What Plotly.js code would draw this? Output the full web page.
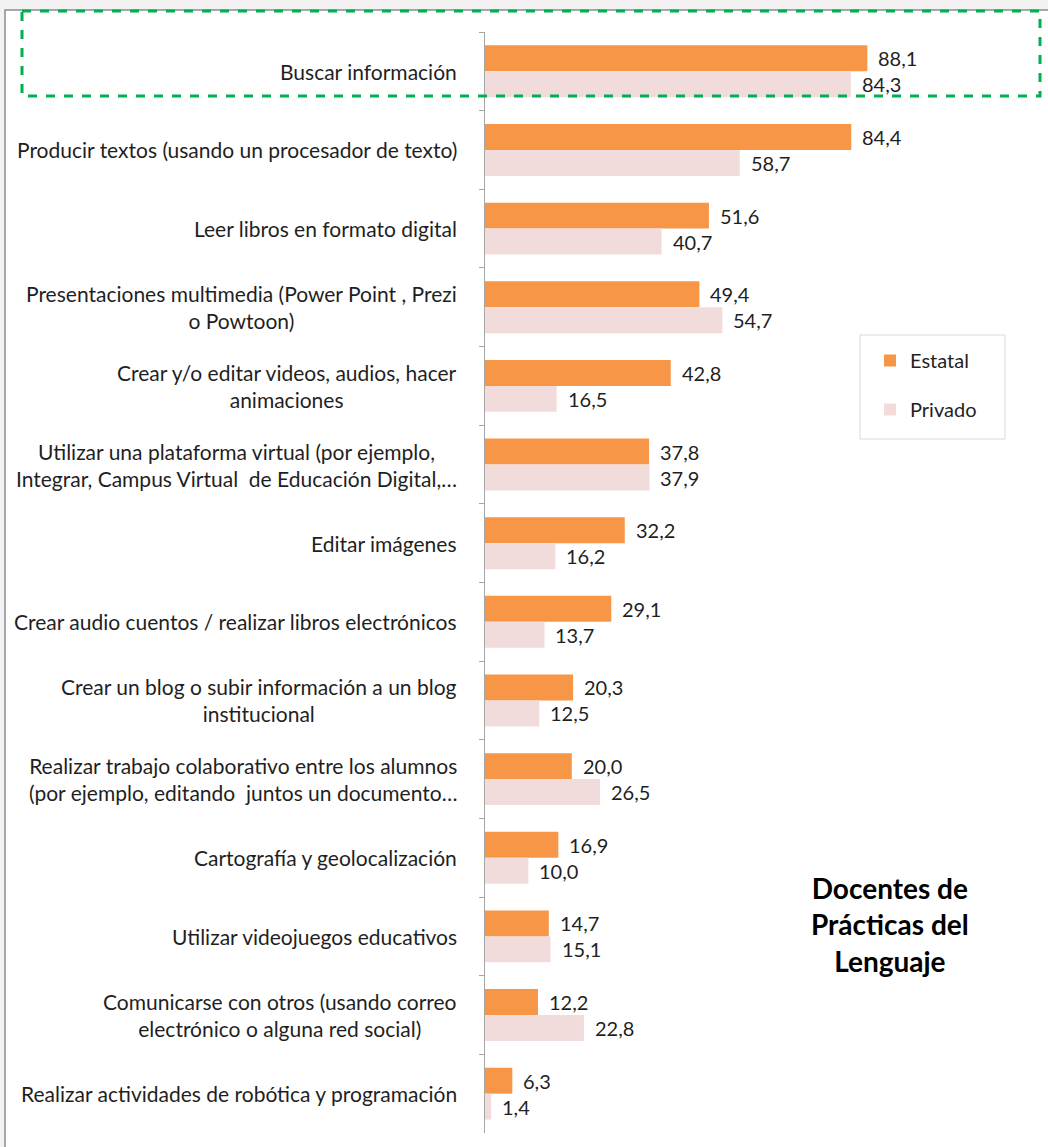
<!DOCTYPE html>
<html>
<head>
<meta charset="utf-8">
<script src="https://cdn.plot.ly/plotly-3.0.1.min.js"></script>
<style>
html,body{margin:0;padding:0;background:#f2f2f2;}
#chart{width:1048px;height:1147px;}
</style>
</head>
<body>
<div id="chart"></div>
<script>
const categories = [
  "Buscar información",
  "Producir textos (usando un procesador de texto)",
  "Leer libros en formato digital",
  "Presentaciones multimedia (Power Point , Prezi<br>o Powtoon)",
  "Crear y/o editar videos, audios, hacer<br>animaciones",
  "Utilizar una plataforma virtual (por ejemplo,<br>Integrar, Campus Virtual  de Educación Digital,…",
  "Editar imágenes",
  "Crear audio cuentos / realizar libros electrónicos",
  "Crear un blog o subir información a un blog<br>institucional",
  "Realizar trabajo colaborativo entre los alumnos<br>(por ejemplo, editando  juntos un documento…",
  "Cartografía y geolocalización",
  "Utilizar videojuegos educativos",
  "Comunicarse con otros (usando correo<br>electrónico o alguna red social)",
  "Realizar actividades de robótica y programación"
];
const estatal = [88.1, 84.4, 51.6, 49.4, 42.8, 37.8, 32.2, 29.1, 20.3, 20.0, 16.9, 14.7, 12.2, 6.3];
const privado = [84.3, 58.7, 40.7, 54.7, 16.5, 37.9, 16.2, 13.7, 12.5, 26.5, 10.0, 15.1, 22.8, 1.4];
const seriesNames = ["Estatal", "Privado"];
const chartTitle = "Docentes de<br>Prácticas del<br>Lenguaje";

const COL_E = "#F79646";
const COL_P = "#F2DCDB";
const FONT = "Lato, 'Open Sans', sans-serif";
const TXT = "#1f1f1f";

// pixel -> paper helpers (plot area: x 485..919, y 32..1133)
const PL = 485, PR = 919, PT = 32, PB = 1133;
const px = v => (v - PL) / (PR - PL);
const py = v => (PB - v) / (PB - PT);

const fmt = v => v.toFixed(1).replace('.', ',');

const traces = [
  {type:'bar', orientation:'h', name: seriesNames[0], y: categories, x: estatal,
   marker:{color: COL_E}, legendgroup:'a', hoverinfo:'x+name'},
  {type:'bar', orientation:'h', name: seriesNames[1], y: categories, x: privado,
   marker:{color: COL_P}, legendgroup:'b', hoverinfo:'x+name'}
];

const annotations = [];
categories.forEach((c, i) => {
  annotations.push({xref:'paper', yref:'y', x: px(459), y: c, text: c,
    xanchor:'right', yanchor:'middle', align:'center', showarrow:false,
    font:{family: FONT, size: 21, color: TXT}});
  annotations.push({xref:'x', yref:'y', x: estatal[i], y: c, text: fmt(estatal[i]),
    xanchor:'left', yanchor:'middle', xshift: 9, yshift: 13, showarrow:false,
    font:{family: FONT, size: 20, color: TXT}});
  annotations.push({xref:'x', yref:'y', x: privado[i], y: c, text: fmt(privado[i]),
    xanchor:'left', yanchor:'middle', xshift: 9, yshift: -13, showarrow:false,
    font:{family: FONT, size: 20, color: TXT}});
});
annotations.push({xref:'paper', yref:'paper', x: px(890), y: py(924), text: '<b>' + chartTitle + '</b>',
  xanchor:'center', yanchor:'middle', align:'center', showarrow:false,
  font:{family: FONT, size: 28, color: '#000'}});

const shapes = [
  {type:'rect', xref:'paper', yref:'paper', x0: px(5), x1: px(1070), y0: py(10), y1: py(1170),
   line:{color:'#8c8c8c', width:1.5}, fillcolor:'#ffffff', layer:'below'},
  {type:'rect', xref:'paper', yref:'paper', x0: px(860), x1: px(1005), y0: py(335), y1: py(439),
   line:{color:'#d9d9d9', width:1}, fillcolor:'rgba(0,0,0,0)', layer:'below'},
  {type:'rect', xref:'paper', yref:'paper', x0: px(22), x1: px(1040), y0: py(11), y1: py(96),
   line:{color:'#00B050', width:3, dash:'dash'}, fillcolor:'rgba(0,0,0,0)', layer:'above'}
];

const layout = {
  width:1048, height:1147,
  margin:{l:PL, r:1048-PR, t:PT, b:1147-PB, pad:0},
  paper_bgcolor:'#f2f2f2', plot_bgcolor:'rgba(0,0,0,0)',
  barmode:'group', bargap:0.34, bargroupgap:0,
  font:{family: FONT, color: TXT},
  xaxis:{range:[0,100], showgrid:false, zeroline:false, showticklabels:false, showline:false, ticks:'', fixedrange:true},
  yaxis:{autorange:'reversed', showticklabels:false, showline:true, linecolor:'#a6a6a6', linewidth:1,
         ticks:'outside', ticklen:5, tickcolor:'#a6a6a6', tickson:'boundaries', showgrid:false, fixedrange:true},
  showlegend:true,
  legend:{x: px(870), y: py(341), xanchor:'left', yanchor:'top', bgcolor:'rgba(0,0,0,0)', borderwidth:0,
          font:{family: FONT, size: 20, color: TXT}, tracegroupgap: 20, traceorder:'grouped'},
  annotations: annotations,
  shapes: shapes
};

Plotly.newPlot('chart', traces, layout, {displayModeBar:false, staticPlot:true});
</script>
</body>
</html>
